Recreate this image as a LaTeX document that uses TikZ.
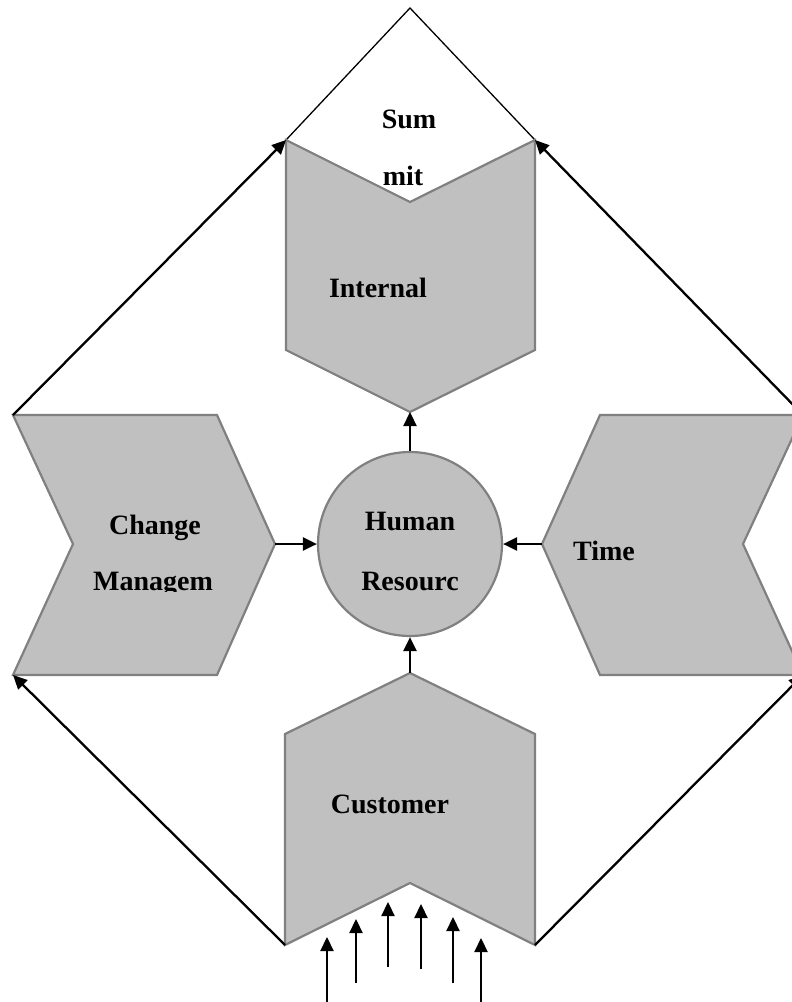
\documentclass[tikz,border=0pt]{standalone}
\usepackage{fontspec}
\setmainfont{Liberation Serif}
\usetikzlibrary{arrows.meta}
\definecolor{chevgray}{HTML}{C0C0C0}
\definecolor{chevedge}{HTML}{808080}
\begin{document}
\begin{tikzpicture}[x=1pt,y=-1pt,
 chev/.style={fill=chevgray,draw=chevedge,line width=2.2pt,line join=miter},
 conn/.style={draw=black,line width=2.3pt,-{Triangle[length=14pt,width=13pt]}},
 lbl/.style={font=\fontsize{28}{34}\selectfont\bfseries,anchor=base,inner sep=0pt}]
\useasboundingbox (0,0) rectangle (792,1002);
\clip (0,0) rectangle (792,1002);
% coordinates
\coordinate (S) at (410,8);
\coordinate (I1) at (286,140); \coordinate (I2) at (410,202); \coordinate (I3) at (535,140);
\coordinate (I4) at (535,350); \coordinate (I5) at (410,412); \coordinate (I6) at (286,350);
\coordinate (C1) at (13,415); \coordinate (C2) at (217,415); \coordinate (C3) at (275,544);
\coordinate (C4) at (217,675); \coordinate (C5) at (13,675); \coordinate (C6) at (73,544);
\coordinate (T1) at (600,415); \coordinate (T2) at (803,415); \coordinate (T3) at (743,544);
\coordinate (T4) at (803,675); \coordinate (T5) at (600,675); \coordinate (T6) at (542,544);
\coordinate (U1) at (410,673); \coordinate (U2) at (535,734); \coordinate (U3) at (535,945);
\coordinate (U4) at (410,883); \coordinate (U5) at (285,945); \coordinate (U6) at (285,734);
% summit
\draw[line width=1.3pt] (I1) -- (S) -- (I3);
% shapes
\draw[chev] (I1) -- (I2) -- (I3) -- (I4) -- (I5) -- (I6) -- cycle;
\draw[chev] (C1) -- (C2) -- (C3) -- (C4) -- (C5) -- (C6) -- cycle;
\draw[chev] (T1) -- (T2) -- (T3) -- (T4) -- (T5) -- (T6) -- cycle;
\draw[chev] (U1) -- (U2) -- (U3) -- (U4) -- (U5) -- (U6) -- cycle;
\node[circle,minimum size=184pt,inner sep=0pt,fill=chevgray,draw=chevedge,line width=2.2pt] (hr) at (410,544) {};
% labels
\node[lbl] (sum) at (409,128) {Sum};
\node[lbl] (mit) at (403,185) {mit};
\node[lbl] (int) at (378,297) {Internal};
\node[lbl] (chg) at (155,534) {Change};
\begin{scope}
\clip (60,550) rectangle (240,591);
\node[lbl] (mgm) at (153,590) {Managem};
\end{scope}
\node[lbl] (hum) at (410,530) {Human};
\node[lbl] (res) at (410,590) {Resourc};
\node[lbl] (tim) at (604,560) {Time};
\node[lbl] (cus) at (390,813) {Customer};
% connectors
\draw[conn] (C3) -- (hr.west);
\draw[conn] (T6) -- (hr.east);
\draw[conn] (hr.north) -- (I5);
\draw[conn] (U1) -- (hr.south);
\draw[conn] (C1) -- (I1);
\draw[conn] (T2) -- (I3);
\draw[conn] (U5) -- (C5);
\draw[conn] (U3) -- (T4);
% input arrows
\coordinate (a1) at (327,1010); \coordinate (b1) at (327,937);
\coordinate (a2) at (356,983);  \coordinate (b2) at (356,919);
\coordinate (a3) at (388,967);  \coordinate (b3) at (388,902);
\coordinate (a4) at (421,969);  \coordinate (b4) at (421,904);
\coordinate (a5) at (453,983);  \coordinate (b5) at (453,917);
\coordinate (a6) at (481,1010); \coordinate (b6) at (481,938);
\foreach \i in {1,...,6} \draw[conn] (a\i) -- (b\i);
\end{tikzpicture}
\end{document}
